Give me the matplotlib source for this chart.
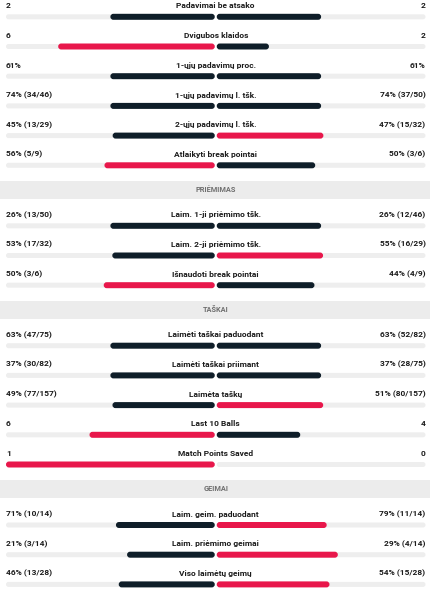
import matplotlib
matplotlib.use("Agg")
import matplotlib.pyplot as plt
from matplotlib.patches import FancyBboxPatch, Rectangle

plt.rcParams['font.family'] = ['Roboto', 'DejaVu Sans']

# rows: section header (None = no header) and stat rows
sections = [None, "PRIĖMIMAS", "TAŠKAI", "GEIMAI"]
titles = [
    ["Padavimai be atsako", "Dvigubos klaidos", "1-ųjų padavimų proc.",
     "1-ųjų padavimų l. tšk.", "2-ųjų padavimų l. tšk.", "Atlaikyti break pointai"],
    ["Laim. 1-ji priėmimo tšk.", "Laim. 2-ji priėmimo tšk.", "Išnaudoti break pointai"],
    ["Laimėti taškai paduodant", "Laimėti taškai priimant", "Laimėta taškų",
     "Last 10 Balls", "Match Points Saved"],
    ["Laim. geim. paduodant", "Laim. priėmimo geimai", "Viso laimėtų geimų"],
]
left_vals = [[2, 6, 61, 74, 45, 56], [26, 53, 50], [63, 37, 49, 6, 1], [71, 21, 46]]
right_vals = [[2, 2, 61, 74, 47, 50], [26, 55, 44], [63, 37, 51, 4, 0], [79, 29, 54]]
left_text = [
    ["2", "6", "61%", "74% (34/46)", "45% (13/29)", "56% (5/9)"],
    ["26% (13/50)", "53% (17/32)", "50% (3/6)"],
    ["63% (47/75)", "37% (30/82)", "49% (77/157)", "6", "1"],
    ["71% (10/14)", "21% (3/14)", "46% (13/28)"],
]
right_text = [
    ["2", "2", "61%", "74% (37/50)", "47% (15/32)", "50% (3/6)"],
    ["26% (12/46)", "55% (16/29)", "44% (4/9)"],
    ["63% (52/82)", "37% (28/75)", "51% (80/157)", "4", "0"],
    ["79% (11/14)", "29% (4/14)", "54% (15/28)"],
]

RED = "#e8174b"
DARK = "#0f1e29"
TRACK = "#eeeeee"
TXT = "#1b1b1b"

W, H = 432, 590
fig = plt.figure(figsize=(W / 100, H / 100), dpi=100)
ax = fig.add_axes([0, 0, 1, 1])
ax.set_xlim(0, W)
ax.set_ylim(H, 0)
ax.axis("off")

x0, x1 = 6, 425.5
cx = (x0 + x1) / 2
half = cx - x0 - 1
step = 29.7


def rbar(x, y, w, h, color):
    if w <= 0:
        return
    r = min(h / 2, w / 2)
    ax.add_patch(FancyBboxPatch((x, y - h / 2), w, h,
                                boxstyle=f"round,pad=0,rounding_size={r}",
                                fc=color, ec="none", mutation_aspect=1))


y = 6
for sec, tl, lv, rv, lt, rt in zip(sections, titles, left_vals, right_vals,
                                   left_text, right_text):
    if sec is not None:
        hy = y + 5.8
        ax.add_patch(Rectangle((0, hy - 9.2), 430, 18.4, fc="#ececec", ec="none"))
        ax.text(cx, hy, sec, ha="center", va="center", fontsize=5.3,
                color="#6e6e6e", fontweight="bold")
        y = hy + 25
    for t, a, b, la, ra in zip(tl, lv, rv, lt, rt):
        ax.text(x0, y, la, ha="left", va="center", fontsize=6.0, color=TXT,
                fontweight="bold")
        ax.text(x1, y, ra, ha="right", va="center", fontsize=6.0, color=TXT,
                fontweight="bold")
        ax.text(cx, y, t, ha="center", va="center", fontsize=6.0, color=TXT,
                fontweight="bold")
        by = y + 10.8
        rbar(x0, by, half, 5, TRACK)
        rbar(cx + 1, by, half, 5, TRACK)
        tot = a + b
        fa = a / tot if tot else 0
        fb = b / tot if tot else 0
        ca = RED if a > b else DARK
        cb = RED if b > a else DARK
        rbar(cx - 1 - fa * half, by, fa * half, 6, ca)
        rbar(cx + 1, by, fb * half, 6, cb)
        y += step

fig.savefig("out.png", dpi=100)
